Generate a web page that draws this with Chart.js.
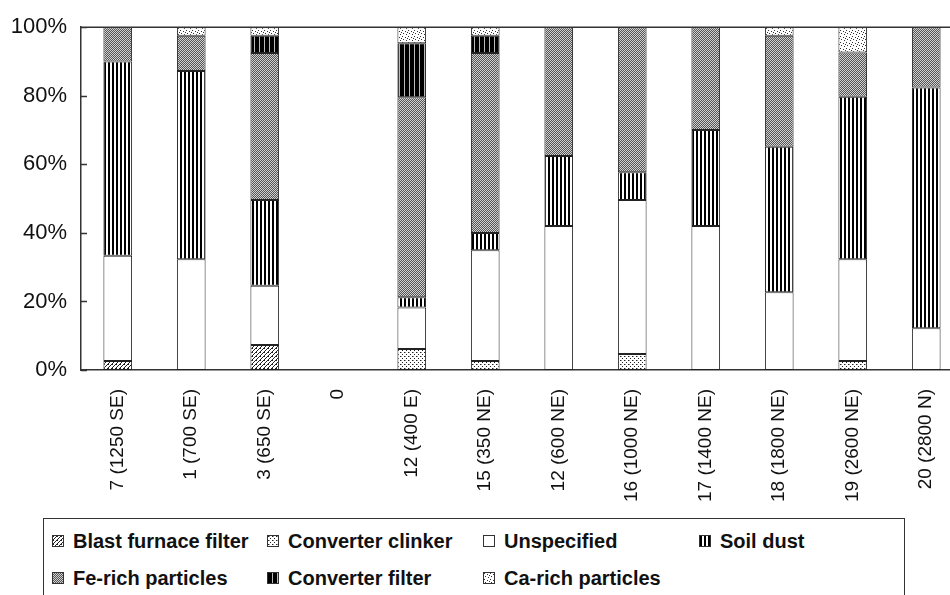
<!DOCTYPE html>
<html lang="en">
<head>
    <meta charset="UTF-8">
    <title>Particle sources by site</title>
    <script src="https://cdn.jsdelivr.net/npm/chart.js"></script>
    <style>
        body { margin: 0; width: 950px; height: 595px; overflow: hidden; background: #fff; font-family: 'Liberation Sans', Arial, sans-serif; position: relative; }
        #chartBox { position: absolute; left: 0; top: 0; }
        .legend { position: absolute; left: 43px; top: 518px; width: 862px; height: 100px; border: 1.5px solid #333; box-sizing: border-box; }
        .legend .item { position: absolute; font-weight: bold; font-size: 20px; color: #111; white-space: nowrap; line-height: 22px; }
        .legend .sw { display: inline-block; width: 12px; height: 12px; border: 1px solid #333; box-sizing: border-box; margin-right: 9px; vertical-align: 1px; }
    </style>
</head>
<body>
<div id="chartBox"><canvas id="chart" width="975" height="515"></canvas></div>
<div class="legend" id="legend"></div>

<script>
// sites (distance m, direction)
const sites = ['7 (1250 SE)', '1 (700 SE)', '3 (650 SE)', '0', '12 (400 E)', '15 (350 NE)',
               '12 (600 NE)', '16 (1000 NE)', '17 (1400 NE)', '18 (1800 NE)', '19 (2600 NE)', '20 (2800 N)'];

// share of each source, % (bottom to top)
const blastFurnace     = [2.6, null, 7.3, null, null, null, null, null, null, null, null, null];
const converterClinker = [null, null, null, null, 6.1, 2.6, null, 4.7, null, null, 2.6, null];
const unspecified      = [30.7, 32.3, 17.3, null, 12.1, 32.3, 42, 44.9, 42, 22.7, 29.7, 12.2];
const soilDust         = [56.7, 54.9, 25, null, 3, 5.1, 20.4, 8.1, 28, 42.4, 47.4, 70.2];
const feRich           = [10, 10.3, 42.9, null, 58.4, 52.5, 37.6, 42.3, 30, 32.4, 12.9, 17.6];
const converterFilter  = [null, null, 5, null, 15.7, 5, null, null, null, null, null, null];
const caRich           = [null, 2.5, 2.5, null, 4.7, 2.5, null, null, null, 2.5, 7.4, null];

const yTicks = [0, 20, 40, 60, 80, 100];

// little tile canvases for the hatch fills
function tile(w, h, draw) {
    const c = document.createElement('canvas');
    c.width = w; c.height = h;
    const g = c.getContext('2d');
    g.fillStyle = '#fff';
    g.fillRect(0, 0, w, h);
    draw(g);
    return c;
}
const tiles = {
    bf: tile(4, 4, g => { g.fillStyle = '#222'; [[3,0],[2,1],[1,2],[0,3],[0,0]].forEach(p => g.fillRect(p[0], p[1], 1, 1)); }),
    cc: tile(4, 4, g => { g.fillStyle = '#222'; g.fillRect(0, 0, 1, 1); g.fillRect(2, 2, 1, 1); g.fillStyle = '#999'; g.fillRect(1, 0, 1, 1); }),
    un: tile(2, 2, g => {}),
    soil: tile(4, 1, g => { g.fillStyle = '#000'; g.fillRect(0, 0, 2, 1); }),
    fe: tile(2, 2, g => { g.fillStyle = '#555'; g.fillRect(0, 0, 2, 2); g.fillStyle = '#d0d0d0'; g.fillRect(0, 0, 1, 1); g.fillRect(1, 1, 1, 1); }),
    cf: tile(5, 1, g => { g.fillStyle = '#000'; g.fillRect(0, 0, 4, 1); g.fillStyle = '#bbb'; g.fillRect(4, 0, 1, 1); }),
    ca: tile(6, 6, g => { g.fillStyle = '#333'; [[0,0],[3,1],[1,3],[4,4],[5,2]].forEach(p => g.fillRect(p[0], p[1], 1, 1)); })
};

const ctx = document.getElementById('chart').getContext('2d');
const fill = k => ctx.createPattern(tiles[k], 'repeat');

const series = [
    { label: 'Blast furnace filter', data: blastFurnace, key: 'bf' },
    { label: 'Converter clinker', data: converterClinker, key: 'cc' },
    { label: 'Unspecified', data: unspecified, key: 'un' },
    { label: 'Soil dust', data: soilDust, key: 'soil' },
    { label: 'Fe-rich particles', data: feRich, key: 'fe' },
    { label: 'Converter filter', data: converterFilter, key: 'cf' },
    { label: 'Ca-rich particles', data: caRich, key: 'ca' }
];

// frame on top and ticks pointing into the plot
const framePlugin = {
    id: 'frame',
    afterDatasetsDraw(chart) {
        const a = chart.chartArea, y = chart.scales.y, c = chart.ctx;
        c.save();
        c.strokeStyle = '#333';
        c.lineWidth = 1.5;
        c.beginPath();
        c.moveTo(a.left, a.top); c.lineTo(a.right, a.top);
        c.moveTo(a.right, a.top); c.lineTo(a.right, a.bottom);
        yTicks.forEach(v => { const py = Math.round(y.getPixelForValue(v)) + 0.5; c.moveTo(a.left, py); c.lineTo(a.left + 6, py); });
        c.stroke();
        c.restore();
    }
};

new Chart(ctx, {
    type: 'bar',
    data: {
        labels: sites,
        datasets: series.map(s => ({
            label: s.label, data: s.data, backgroundColor: fill(s.key),
            borderColor: '#222', borderWidth: 1, borderSkipped: false,
            barPercentage: 0.39, categoryPercentage: 1
        }))
    },
    options: {
        responsive: false,
        animation: false,
        layout: { padding: { top: 26, right: 12, left: 0, bottom: 0 } },
        plugins: { legend: { display: false }, tooltip: { enabled: false } },
        scales: {
            x: {
                stacked: true,
                grid: { display: false, drawTicks: false },
                border: { display: true, color: '#333', width: 1.5 },
                ticks: { minRotation: 90, maxRotation: 90, padding: 19, color: '#111', font: { family: "'Liberation Sans', Arial", size: 19 } },
                afterFit: s => { s.height = 145; }
            },
            y: {
                stacked: true, min: 0, max: 100,
                grid: { display: false, drawTicks: false },
                border: { display: true, color: '#333', width: 1.5 },
                ticks: { stepSize: 20, padding: 14, color: '#111', font: { family: "'Liberation Sans', Arial", size: 22 }, callback: v => v + '%' },
                afterFit: s => { s.width = 81; }
            }
        }
    },
    plugins: [framePlugin]
});

// legend, 4 columns x 2 rows like the original
const lg = document.getElementById('legend');
const cols = [8, 223, 439, 655];
series.forEach((s, i) => {
    const d = document.createElement('div');
    d.className = 'item';
    d.style.left = cols[i % 4] + 'px';
    d.style.top = (i < 4 ? 11 : 48) + 'px';
    d.innerHTML = `<span class="sw" style="background-image:url(${tiles[s.key].toDataURL()})"></span>${s.label}`;
    lg.appendChild(d);
});
</script>
</body>
</html>
